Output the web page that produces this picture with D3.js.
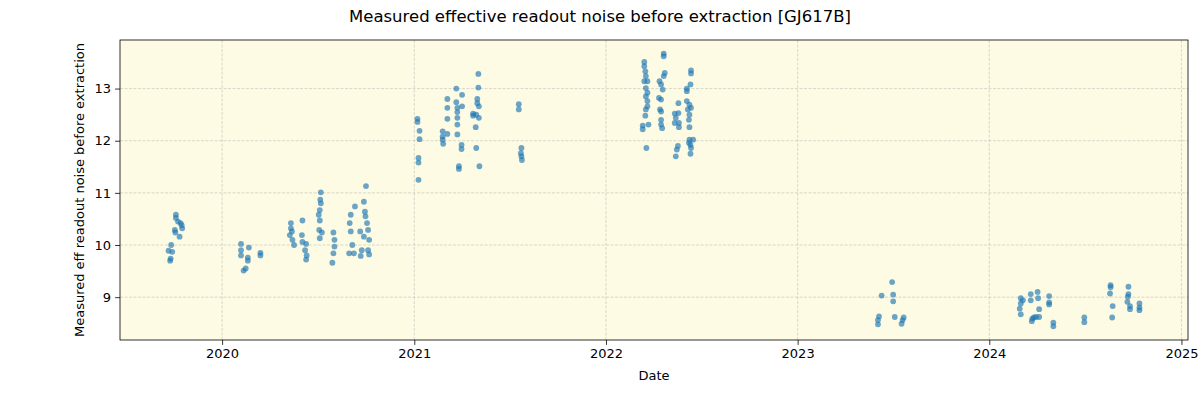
<!DOCTYPE html>
<html>
<head>
<meta charset="utf-8">
<script src="https://cdn.jsdelivr.net/npm/d3@7"></script>
<style>
	body { margin: 0; background: #ffffff; }
	text { font-family: "DejaVu Sans", sans-serif; fill: #000; }
</style>
</head>
<body>
<svg id="bgsvg" width="1200" height="400"></svg>
<script>

const obsDates = [
	"2019-09-21","2019-09-24","2019-09-25","2019-09-26","2019-09-28","2019-10-03","2019-10-04","2019-10-05","2019-10-05","2019-10-09","2019-10-12","2019-10-14","2019-10-17","2019-10-16",
	"2020-02-06","2020-02-06","2020-02-06","2020-02-11","2020-02-15","2020-02-19","2020-02-19","2020-02-21","2020-03-14","2020-03-14",
	"2020-05-09","2020-05-11","2020-05-11","2020-05-13","2020-05-14","2020-05-17","2020-06-01","2020-06-02","2020-06-02","2020-06-07","2020-06-09","2020-06-09","2020-06-10",
	"2020-07-03","2020-07-04","2020-07-05","2020-07-05","2020-07-05","2020-07-06","2020-07-07","2020-07-07","2020-07-09",
	"2020-07-29","2020-07-31","2020-07-31","2020-08-02","2020-08-02",
	"2020-08-30","2020-08-31","2020-09-02","2020-09-02","2020-09-05","2020-09-08","2020-09-10","2020-09-20","2020-09-21","2020-09-23",
	"2020-09-27","2020-09-27","2020-09-29","2020-09-30","2020-10-01","2020-10-03","2020-10-05","2020-10-05","2020-10-07","2020-10-07",
	"2021-01-07","2021-01-07","2021-01-09","2021-01-09","2021-01-09","2021-01-11","2021-01-11",
	"2021-02-24","2021-02-24","2021-02-24","2021-02-25","2021-03-05","2021-03-05","2021-03-05","2021-03-05",
	"2021-03-22","2021-03-22","2021-03-24","2021-03-24","2021-03-24","2021-03-24","2021-03-24","2021-03-27","2021-03-27",
	"2021-04-01","2021-04-01","2021-04-02","2021-04-02","2021-04-23","2021-04-23","2021-04-28","2021-04-29","2021-04-29",
	"2021-05-01","2021-05-01","2021-05-03","2021-05-03","2021-05-04","2021-05-04","2021-05-05",
	"2021-07-19","2021-07-19","2021-07-23","2021-07-24","2021-07-24","2021-07-25",
	"2022-03-12","2022-03-12","2022-03-15","2022-03-15","2022-03-15","2022-03-17","2022-03-17","2022-03-18","2022-03-18","2022-03-18","2022-03-18","2022-03-19",
	"2022-03-21","2022-03-21","2022-03-21","2022-03-21","2022-03-23",
	"2022-04-12","2022-04-13","2022-04-14","2022-04-16","2022-04-16","2022-04-16","2022-04-16","2022-04-16","2022-04-18","2022-04-19","2022-04-21","2022-04-21","2022-04-21","2022-04-23",
	"2022-05-12","2022-05-12","2022-05-14","2022-05-14","2022-05-16","2022-05-18","2022-05-19","2022-05-19","2022-05-20","2022-05-20",
	"2022-06-04","2022-06-04","2022-06-04","2022-06-06","2022-06-08","2022-06-08","2022-06-09","2022-06-09","2022-06-09","2022-06-09",
	"2022-06-11","2022-06-11","2022-06-11","2022-06-12","2022-06-12","2022-06-12","2022-06-12","2022-06-16",
	"2023-06-03","2023-06-03","2023-06-05","2023-06-10","2023-06-30","2023-07-02","2023-07-02","2023-07-05","2023-07-18","2023-07-20","2023-07-22",
	"2024-02-28","2024-03-01","2024-03-01","2024-03-01","2024-03-05","2024-03-20","2024-03-20","2024-03-22","2024-03-23","2024-03-26","2024-03-30",
	"2024-04-02","2024-04-03","2024-04-05","2024-04-05","2024-04-24","2024-04-24","2024-04-24","2024-05-02","2024-05-02","2024-06-30","2024-06-30",
	"2024-08-18","2024-08-19","2024-08-19","2024-08-22","2024-08-23","2024-09-20","2024-09-21","2024-09-22","2024-09-22","2024-09-25","2024-09-25",
	"2024-10-13","2024-10-13","2024-10-13"
]

const noiseValues = [
	9.89,9.70,9.74,10.00,9.87,10.29,10.24,10.58,10.52,10.45,10.16,10.42,10.32,10.38,
	10.02,9.90,9.80,9.51,9.55,9.76,9.70,9.95,9.85,9.80,
	10.19,10.42,10.32,10.26,10.10,10.00,10.19,10.47,10.06,9.90,10.02,9.72,9.80,
	10.58,10.29,10.67,10.47,10.13,10.87,11.01,10.80,10.24,
	9.66,10.24,9.84,10.10,9.97,
	9.84,10.42,10.58,10.26,10.00,9.84,10.74,10.26,9.79,9.90,
	10.83,10.16,10.64,10.55,11.13,10.42,10.29,9.90,10.10,9.82,
	12.42,12.36,11.67,11.58,11.25,12.19,12.03,
	12.18,12.08,12.02,11.94,12.80,12.63,12.42,12.13,
	13.00,12.74,12.63,12.55,12.44,12.31,12.12,11.51,11.46,
	11.92,11.84,12.88,12.66,12.52,12.48,12.26,12.50,11.86,
	12.80,12.72,13.02,13.28,12.44,12.66,11.51,
	12.70,12.60,11.76,11.86,11.70,11.63,
	12.29,12.22,13.51,13.43,13.14,13.33,12.48,13.24,13.01,12.85,12.60,11.86,
	13.14,12.92,12.76,12.66,12.31,
	12.82,13.14,12.60,13.08,12.79,12.56,12.40,12.31,12.24,12.98,13.67,13.62,13.24,13.30,
	12.52,12.34,12.44,11.70,11.83,11.90,12.72,12.53,12.34,12.26,
	13.00,12.95,12.76,12.60,12.40,11.96,12.69,12.50,12.26,12.02,
	13.08,11.92,11.75,13.35,13.29,12.63,11.86,12.02,
	8.56,8.48,8.63,9.03,9.29,9.05,8.92,8.62,8.49,8.56,8.61,
	8.78,8.98,8.88,8.67,8.94,9.06,8.94,8.54,8.59,8.61,8.62,
	9.10,8.98,8.77,8.62,9.02,8.90,8.86,8.51,8.44,8.61,8.52,
	9.07,9.23,9.19,8.61,8.83,8.91,9.01,9.20,9.06,8.83,8.77,
	8.88,8.80,8.75
]

const yTicks = [9, 10, 11, 12, 13]
const xTickYears = ["2020","2021","2022","2023","2024","2025"]

const chartTitle = "Measured effective readout noise before extraction [GJ617B]"
const yTitle     = "Measured eff readout noise before extraction"
const xTitle     = "Date"

const width  = 1200
const height = 400
const margin = {top: 40, right: 12, bottom: 60, left: 120}

const parse = d3.timeParse("%Y-%m-%d")
const points = obsDates.map(function(d, i){ return {date: parse(d), value: noiseValues[i]} })

// matplotlib style 5% padding around data
const tExt = d3.extent(points, function(d){ return +d.date })
const tPad = (tExt[1] - tExt[0]) * 0.05
const vExt = d3.extent(points, function(d){ return d.value })
const vPad = (vExt[1] - vExt[0]) * 0.05

const x = d3.scaleTime()
	.domain([new Date(tExt[0] - tPad), new Date(tExt[1] + tPad)])
	.range([margin.left, width - margin.right])

const y = d3.scaleLinear()
	.domain([vExt[0] - vPad, vExt[1] + vPad])
	.range([height - margin.bottom, margin.top])

const svg = d3.select("#bgsvg")

// plot background
svg.append("rect")
	.attr("x", margin.left)
	.attr("y", margin.top)
	.attr("width", width - margin.left - margin.right)
	.attr("height", height - margin.top - margin.bottom)
	.attr("fill", "#fdfbe3")

const xTickDates = xTickYears.map(function(d){ return d3.timeParse("%Y")(d) })

// grid
const grid = svg.append("g")
	.attr("stroke", "#b0b0b0")
	.attr("stroke-opacity", 0.6)
	.attr("stroke-width", 0.8)
	.attr("stroke-dasharray", "3,1.5")

grid.selectAll(".gx")
	.data(xTickDates)
	.join("line")
	.attr("x1", function(d){ return x(d) })
	.attr("x2", function(d){ return x(d) })
	.attr("y1", margin.top)
	.attr("y2", height - margin.bottom)

grid.selectAll(".gy")
	.data(yTicks)
	.join("line")
	.attr("x1", margin.left)
	.attr("x2", width - margin.right)
	.attr("y1", function(d){ return y(d) })
	.attr("y2", function(d){ return y(d) })

// points
svg.append("g")
	.selectAll("circle")
	.data(points)
	.join("circle")
	.attr("cx", function(d){ return x(d.date) })
	.attr("cy", function(d){ return y(d.value) })
	.attr("r", 2.9)
	.attr("fill", "#1f77b4")
	.attr("fill-opacity", 0.65)

// axes
svg.append("g")
	.attr("transform", "translate(0," + (height - margin.bottom) + ")")
	.call(d3.axisBottom(x).tickValues(xTickDates).tickFormat(d3.timeFormat("%Y")).tickSize(4.9).tickPadding(4))

svg.append("g")
	.attr("transform", "translate(" + margin.left + ",0)")
	.call(d3.axisLeft(y).tickValues(yTicks).tickFormat(d3.format("d")).tickSize(4.9).tickPadding(4))

svg.selectAll(".domain").remove()
svg.selectAll(".tick line").attr("stroke", "#000").attr("stroke-width", 0.8)
svg.selectAll(".tick text").attr("font-size", 13).attr("font-family", "DejaVu Sans").attr("fill", "#000")

// frame
svg.append("rect")
	.attr("x", margin.left)
	.attr("y", margin.top)
	.attr("width", width - margin.left - margin.right)
	.attr("height", height - margin.top - margin.bottom)
	.attr("fill", "none")
	.attr("stroke", "#000")
	.attr("stroke-width", 0.8)

// titles
svg.append("text")
	.attr("x", width / 2)
	.attr("y", 22)
	.attr("text-anchor", "middle")
	.attr("font-size", 16.5)
	.text(chartTitle)

svg.append("text")
	.attr("x", (margin.left + width - margin.right) / 2)
	.attr("y", 380)
	.attr("text-anchor", "middle")
	.attr("font-size", 13)
	.text(xTitle)

svg.append("text")
	.attr("transform", "translate(84," + ((margin.top + height - margin.bottom) / 2) + ") rotate(-90)")
	.attr("text-anchor", "middle")
	.attr("font-size", 13)
	.text(yTitle)

</script>
</body>
</html>
